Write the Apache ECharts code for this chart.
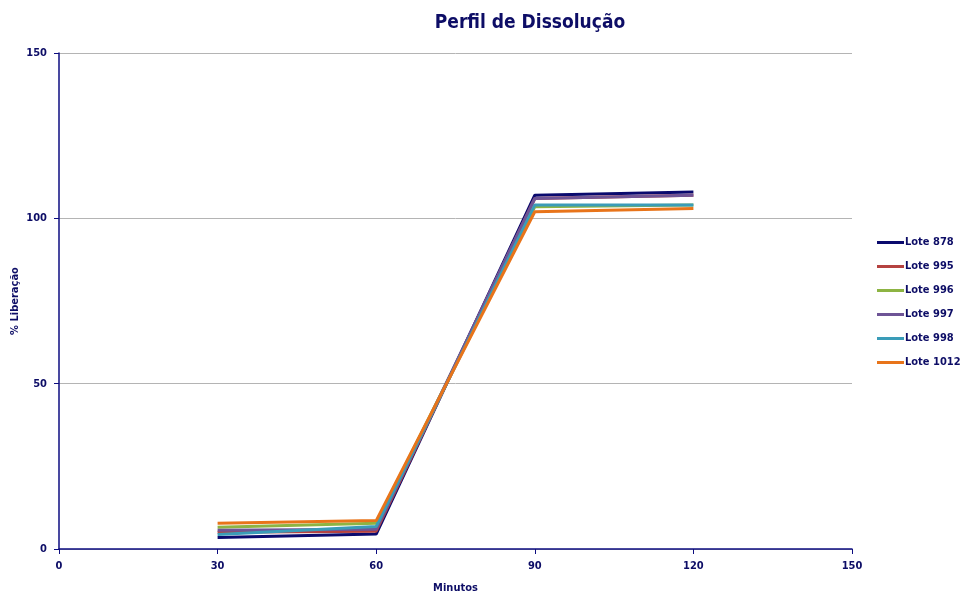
<!DOCTYPE html>
<html>
<head>
<meta charset="utf-8">
<script src="https://cdn.jsdelivr.net/npm/echarts@6/dist/echarts.min.js"></script>
<style>
  html, body { margin: 0; padding: 0; background: #fff; }
  #chart { width: 961px; height: 593px; }
</style>
</head>
<body>
<div id="chart"></div>
<script>
// minutos de coleta
const minutos = [30, 60, 90, 120]
const lotes = ['Lote 878', 'Lote 995', 'Lote 996', 'Lote 997', 'Lote 998', 'Lote 1012']
const lote878 = [3.5, 4.5, 107, 108]
const lote995 = [5.1, 5.4, 106, 107]
const lote996 = [6.6, 7.8, 103.5, 104]
const lote997 = [5.7, 6, 106, 107]
const lote998 = [4.4, 6.8, 104, 104]
const lote1012 = [7.8, 8.6, 102, 103]
const cores = ['#0a0a6e', '#b54240', '#8db443', '#6e5496', '#3a9cb8', '#e8741a']

const valores = [lote878, lote995, lote996, lote997, lote998, lote1012]
const txt = '#0d0d66'
const fonte = 'Tahoma, "DejaVu Sans Condensed", "DejaVu Sans", sans-serif'

const chart = echarts.init(document.getElementById('chart'))

const series = lotes.map((nome, i) => ({
  name: nome,
  type: 'line',
  data: minutos.map((m, j) => [m, valores[i][j]]),
  showSymbol: false,
  symbol: 'none',
  lineStyle: { width: 3, color: cores[i] },
  itemStyle: { color: cores[i] }
}))

chart.setOption({
  animation: false,
  textStyle: { fontFamily: fonte },
  title: {
    text: 'Perfil de Dissolução',
    left: 525,
    top: 9,
    textAlign: 'center',
    textStyle: { color: txt, fontSize: 19, fontWeight: 'bold', fontFamily: fonte }
  },
  legend: {
    orient: 'vertical',
    left: 877,
    top: 237,
    padding: 0,
    itemWidth: 27,
    itemHeight: 3,
    itemGap: 13,
    icon: 'rect',
    textStyle: { color: txt, fontSize: 11, fontWeight: 'bold', padding: [0, 0, 0, -4] },
    data: lotes
  },
  grid: { left: 59, right: 109, top: 53, bottom: 44, outerBoundsMode: 'none', containLabel: false },
  xAxis: {
    type: 'value',
    min: 0, max: 150, interval: 30,
    name: 'Minutos',
    nameLocation: 'middle',
    nameGap: 34,
    nameMoveOverlap: false,
    nameTextStyle: { color: txt, fontSize: 11, fontWeight: 'bold' },
    axisLine: { lineStyle: { color: '#0d0d80', width: 1.5 } },
    axisTick: { show: true, length: 5, lineStyle: { color: '#0d0d80' } },
    axisLabel: { color: txt, fontSize: 11, fontWeight: 'bold', margin: 12 },
    splitLine: { show: false }
  },
  yAxis: {
    type: 'value',
    min: 0, max: 150, interval: 50,
    name: '% Liberação',
    nameLocation: 'middle',
    nameGap: 38,
    nameMoveOverlap: false,
    nameRotate: 90,
    nameTextStyle: { color: txt, fontSize: 11, fontWeight: 'bold' },
    axisLine: { show: true, lineStyle: { color: '#0d0d80', width: 1.5 } },
    axisTick: { show: true, length: 5, lineStyle: { color: '#0d0d80' } },
    axisLabel: { color: txt, fontSize: 11, fontWeight: 'bold', margin: 12 },
    splitLine: { lineStyle: { color: '#b4b4b4', width: 1 } }
  },
  series: series
})
</script>
</body>
</html>
